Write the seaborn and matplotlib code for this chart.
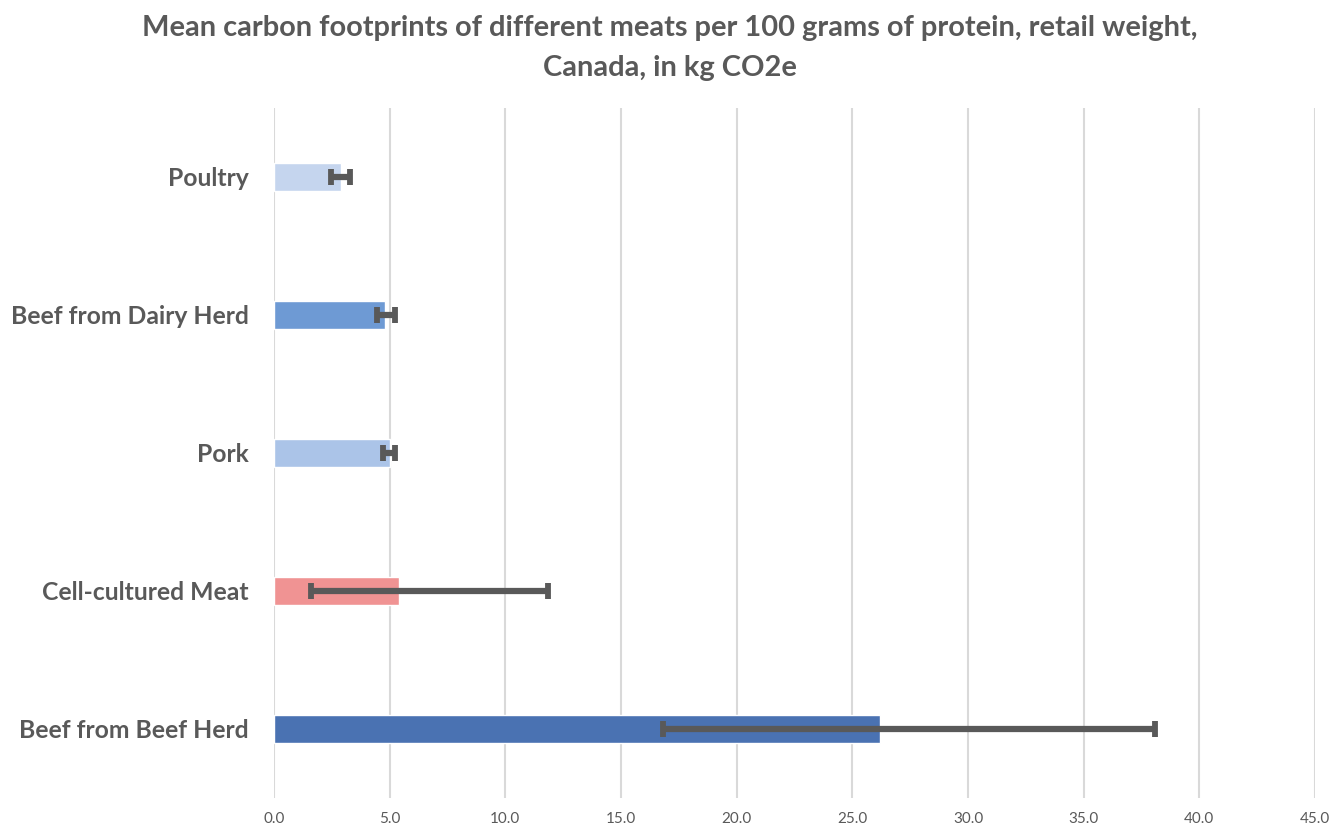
import matplotlib
matplotlib.use("Agg")
import matplotlib.pyplot as plt
import numpy as np
import pandas as pd
import seaborn as sns

# data (kg CO2e per 100 g protein)
meats = ["Poultry", "Beef from Dairy Herd", "Pork", "Cell-cultured Meat", "Beef from Beef Herd"]
mean_values = [2.9, 4.8, 5.0, 5.4, 26.2]
low_values = [2.45, 4.45, 4.7, 1.6, 16.8]
high_values = [3.3, 5.25, 5.25, 11.85, 38.1]
bar_colors = ["#C5D5EE", "#6E9AD4", "#ABC4E8", "#F09393", "#4A72B2"]
x_ticks = [0, 5, 10, 15, 20, 25, 30, 35, 40, 45]

grey = "#595959"

sns.set_theme(style="white")
plt.rcParams['font.family'] = ['Lato', 'DejaVu Sans']

df = pd.DataFrame({"meat": meats, "value": mean_values})

fig = plt.figure(figsize=(13.4, 8.31), dpi=100)
ax = fig.add_axes([274 / 1340, 1 - 798 / 831, (1315 - 274) / 1340, (798 - 108) / 831])

sns.barplot(data=df, y="meat", x="value", hue="meat", palette=bar_colors,
            legend=False, width=0.21, saturation=1, ax=ax, errorbar=None)

means = np.array(mean_values)
xerr = np.vstack([means - np.array(low_values), np.array(high_values) - means])
ax.errorbar(means, np.arange(len(meats)), xerr=xerr, fmt="none", ecolor=grey,
            elinewidth=4.5, capsize=5.5, capthick=4.2, zorder=5)

ax.set_xlim(0, 45)
ax.set_ylim(4.5, -0.5)
ax.set_xticks(x_ticks)
ax.set_xticklabels(["%.1f" % t for t in x_ticks], fontsize=11, color=grey)
ax.tick_params(axis="y", labelsize=17.8, colors=grey, pad=18, length=0)
ax.tick_params(axis="x", length=0, pad=10)
for lab in ax.get_yticklabels():
    lab.set_fontweight("bold")
ax.xaxis.grid(True, color="#D9D9D9", linewidth=1.5)
ax.set_axisbelow(True)
for s in ax.spines.values():
    s.set_visible(False)
ax.set_xlabel("")
ax.set_ylabel("")

fig.text(0.5, 1 - 28 / 831, "Mean carbon footprints of different meats per 100 grams of protein, retail weight,",
         ha="center", va="center", fontsize=20.9, fontweight="bold", color=grey)
fig.text(0.5, 1 - 68 / 831, "Canada, in kg CO2e",
         ha="center", va="center", fontsize=20.9, fontweight="bold", color=grey)

fig.savefig("out.png", dpi=100)
